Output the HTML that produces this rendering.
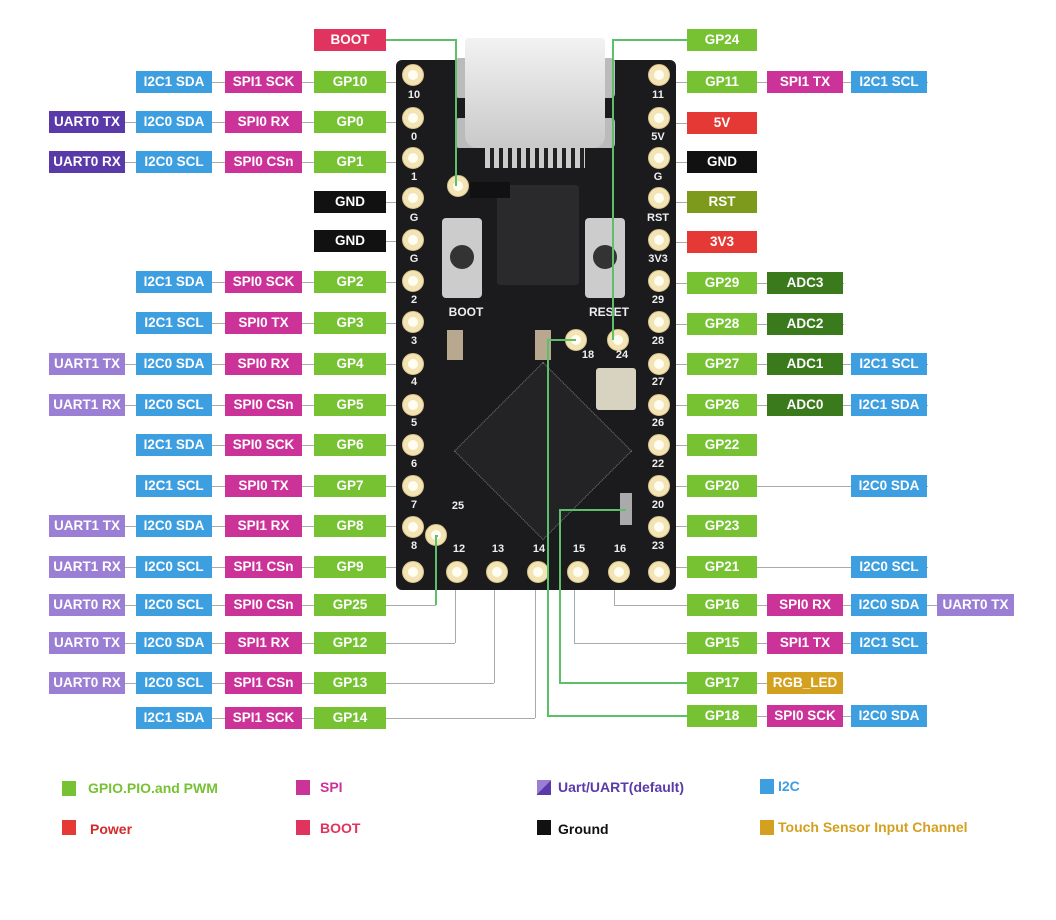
<!DOCTYPE html>
<html><head><meta charset="utf-8"><style>
body{margin:0;width:1056px;height:920px;background:#fff;position:relative;overflow:hidden;font-family:"Liberation Sans",sans-serif}
.b{position:absolute;height:22px;line-height:22px;color:#fff;font-weight:bold;font-size:13.5px;text-align:center;white-space:nowrap}
.g{background:#77c232}.s{background:#cc3399}.i{background:#3d9ee0}.u{background:#5a3aa8}.v{background:#9b7fd4}.r{background:#e53935}.k{background:#111}.bt{background:#e0335e}.o{background:#7d9a1c}.a{background:#3a7a1c}.y{background:#d4a020}
.L1{left:49px;width:76px}.L2{left:136px;width:76px}.L3{left:225px;width:77px}.L4{left:314px;width:72px}
.R1{left:687px;width:70px}.R2{left:767px;width:76px}.R3{left:851px;width:76px}.R4{left:937px;width:77px}
.h{position:absolute;height:1px;background:#aaa}
.vl{position:absolute;width:1px;background:#aaa}
.gh{position:absolute;height:2px;background:#5cbf6a}.gv{position:absolute;width:2px;background:#5cbf6a}
.p{position:absolute;width:22px;height:22px;border-radius:50%;background:#f2e4b4;margin:-11px 0 0 -11px;box-sizing:border-box;border:1px solid #d8c388}
.p::after{content:"";position:absolute;left:5px;top:5px;width:10px;height:10px;border-radius:50%;background:#fffdf2}
.t{position:absolute;color:#eee;font-weight:bold;font-size:11px;transform:translateX(-50%)}
.lg{position:absolute;font-size:14px;font-weight:bold}
.sq{position:absolute;width:14px;height:15px}
</style></head><body>
<!-- horizontal connectors left -->
<div class="h" style="left:386px;top:40px;width:12px"></div>
<div class="h" style="left:136px;top:82px;width:262px"></div>
<div class="h" style="left:49px;top:122px;width:349px"></div>
<div class="h" style="left:49px;top:162px;width:349px"></div>
<div class="h" style="left:386px;top:202px;width:12px"></div>
<div class="h" style="left:386px;top:241px;width:12px"></div>
<div class="h" style="left:136px;top:282px;width:262px"></div>
<div class="h" style="left:136px;top:323px;width:262px"></div>
<div class="h" style="left:49px;top:364px;width:349px"></div>
<div class="h" style="left:49px;top:405px;width:349px"></div>
<div class="h" style="left:136px;top:445px;width:262px"></div>
<div class="h" style="left:136px;top:486px;width:262px"></div>
<div class="h" style="left:49px;top:526px;width:349px"></div>
<div class="h" style="left:49px;top:567px;width:349px"></div>
<div class="h" style="left:49px;top:605px;width:387px"></div>
<div class="h" style="left:49px;top:643px;width:406px"></div>
<div class="h" style="left:49px;top:683px;width:445px"></div>
<div class="h" style="left:136px;top:718px;width:399px"></div>
<div class="vl" style="left:455px;top:585px;height:58px"></div>
<div class="vl" style="left:494px;top:585px;height:98px"></div>
<div class="vl" style="left:535px;top:585px;height:133px"></div>
<!-- right connectors -->
<div class="h" style="left:674px;top:82px;width:254px"></div>
<div class="h" style="left:674px;top:123px;width:14px"></div>
<div class="h" style="left:674px;top:162px;width:14px"></div>
<div class="h" style="left:674px;top:202px;width:14px"></div>
<div class="h" style="left:674px;top:242px;width:14px"></div>
<div class="h" style="left:674px;top:283px;width:170px"></div>
<div class="h" style="left:674px;top:324px;width:170px"></div>
<div class="h" style="left:674px;top:364px;width:254px"></div>
<div class="h" style="left:674px;top:405px;width:254px"></div>
<div class="h" style="left:674px;top:445px;width:14px"></div>
<div class="h" style="left:674px;top:486px;width:254px"></div>
<div class="h" style="left:674px;top:526px;width:14px"></div>
<div class="h" style="left:674px;top:567px;width:254px"></div>
<div class="h" style="left:614px;top:605px;width:400px"></div>
<div class="vl" style="left:614px;top:585px;height:20px"></div>
<div class="h" style="left:574px;top:643px;width:354px"></div>
<div class="vl" style="left:574px;top:585px;height:58px"></div>
<div class="h" style="left:757px;top:683px;width:86px"></div>
<div class="h" style="left:757px;top:716px;width:170px"></div>

<!-- board -->
<div style="position:absolute;left:396px;top:60px;width:280px;height:530px;background:#1b1b1d;border-radius:6px"></div>
<div style="position:absolute;left:497px;top:185px;width:82px;height:100px;background:#2a2a2c;border-radius:3px"></div>
<div style="position:absolute;left:480px;top:388px;width:124px;height:124px;background:#232325;transform:rotate(45deg);border:1px dotted #777"></div>
<div style="position:absolute;left:442px;top:218px;width:40px;height:80px;background:#ccc;border-radius:4px"></div>
<div style="position:absolute;left:450px;top:245px;width:24px;height:24px;background:#333;border-radius:50%"></div>
<div style="position:absolute;left:585px;top:218px;width:40px;height:80px;background:#ccc;border-radius:4px"></div>
<div style="position:absolute;left:593px;top:245px;width:24px;height:24px;background:#333;border-radius:50%"></div>
<div style="position:absolute;left:596px;top:368px;width:40px;height:42px;background:#d8d2c0;border-radius:3px"></div>
<div style="position:absolute;left:470px;top:182px;width:40px;height:16px;background:#111"></div>
<div style="position:absolute;left:447px;top:330px;width:16px;height:30px;background:#b8a890"></div>
<div style="position:absolute;left:535px;top:330px;width:16px;height:30px;background:#b8a890"></div>
<div style="position:absolute;left:620px;top:493px;width:12px;height:32px;background:#aaa"></div>
<!-- USB -->
<div style="position:absolute;left:455px;top:58px;width:30px;height:40px;background:#bbb;border-radius:4px"></div>
<div style="position:absolute;left:585px;top:58px;width:30px;height:40px;background:#bbb;border-radius:4px"></div>
<div style="position:absolute;left:455px;top:118px;width:30px;height:30px;background:#bbb;border-radius:4px"></div>
<div style="position:absolute;left:585px;top:118px;width:30px;height:30px;background:#bbb;border-radius:4px"></div>
<div style="position:absolute;left:465px;top:38px;width:140px;height:110px;background:linear-gradient(#f2f2f2,#c9c9c9);border-radius:4px 4px 12px 12px"></div>
<div style="position:absolute;left:485px;top:148px;width:100px;height:20px;background:repeating-linear-gradient(90deg,#ccc 0 5px,#222 5px 9px)"></div>

<!-- pins -->
<div class="p" style="left:413px;top:75px"></div><div class="p" style="left:413px;top:118px"></div><div class="p" style="left:413px;top:158px"></div><div class="p" style="left:413px;top:198px"></div><div class="p" style="left:413px;top:240px"></div><div class="p" style="left:413px;top:281px"></div><div class="p" style="left:413px;top:322px"></div><div class="p" style="left:413px;top:364px"></div><div class="p" style="left:413px;top:405px"></div><div class="p" style="left:413px;top:445px"></div><div class="p" style="left:413px;top:486px"></div><div class="p" style="left:413px;top:527px"></div>
<div class="p" style="left:659px;top:75px"></div><div class="p" style="left:659px;top:118px"></div><div class="p" style="left:659px;top:158px"></div><div class="p" style="left:659px;top:198px"></div><div class="p" style="left:659px;top:240px"></div><div class="p" style="left:659px;top:281px"></div><div class="p" style="left:659px;top:322px"></div><div class="p" style="left:659px;top:364px"></div><div class="p" style="left:659px;top:405px"></div><div class="p" style="left:659px;top:445px"></div><div class="p" style="left:659px;top:486px"></div><div class="p" style="left:659px;top:527px"></div>
<div class="p" style="left:413px;top:572px"></div><div class="p" style="left:457px;top:572px"></div><div class="p" style="left:497px;top:572px"></div><div class="p" style="left:538px;top:572px"></div><div class="p" style="left:578px;top:572px"></div><div class="p" style="left:619px;top:572px"></div><div class="p" style="left:659px;top:572px"></div>
<div class="p" style="left:458px;top:186px"></div><div class="p" style="left:436px;top:535px"></div><div class="p" style="left:576px;top:340px"></div><div class="p" style="left:618px;top:340px"></div>
<!-- pin labels -->
<div class="t" style="left:414px;top:89px">10</div><div class="t" style="left:414px;top:131px">0</div><div class="t" style="left:414px;top:171px">1</div><div class="t" style="left:414px;top:212px">G</div><div class="t" style="left:414px;top:253px">G</div><div class="t" style="left:414px;top:294px">2</div><div class="t" style="left:414px;top:335px">3</div><div class="t" style="left:414px;top:376px">4</div><div class="t" style="left:414px;top:417px">5</div><div class="t" style="left:414px;top:458px">6</div><div class="t" style="left:414px;top:499px">7</div><div class="t" style="left:414px;top:540px">8</div>
<div class="t" style="left:658px;top:89px">11</div><div class="t" style="left:658px;top:131px">5V</div><div class="t" style="left:658px;top:171px">G</div><div class="t" style="left:658px;top:212px">RST</div><div class="t" style="left:658px;top:253px">3V3</div><div class="t" style="left:658px;top:294px">29</div><div class="t" style="left:658px;top:335px">28</div><div class="t" style="left:658px;top:376px">27</div><div class="t" style="left:658px;top:417px">26</div><div class="t" style="left:658px;top:458px">22</div><div class="t" style="left:658px;top:499px">20</div><div class="t" style="left:658px;top:540px">23</div>
<div class="t" style="left:459px;top:543px">12</div><div class="t" style="left:498px;top:543px">13</div><div class="t" style="left:539px;top:543px">14</div><div class="t" style="left:579px;top:543px">15</div><div class="t" style="left:620px;top:543px">16</div><div class="t" style="left:458px;top:500px">25</div>
<div class="t" style="left:588px;top:349px">18</div><div class="t" style="left:622px;top:349px">24</div><div class="t" style="left:466px;top:305px;font-size:12px">BOOT</div><div class="t" style="left:609px;top:305px;font-size:12px">RESET</div>

<!-- green leaders -->
<div class="gh" style="left:386px;top:39px;width:70px"></div><div class="gv" style="left:455px;top:39px;height:147px"></div>
<div class="gh" style="left:613px;top:39px;width:74px"></div><div class="gv" style="left:612px;top:39px;height:301px"></div>
<div class="gh" style="left:548px;top:339px;width:28px"></div><div class="gv" style="left:547px;top:339px;height:378px"></div><div class="gh" style="left:547px;top:715px;width:140px"></div>
<div class="gh" style="left:560px;top:509px;width:66px"></div><div class="gv" style="left:559px;top:509px;height:174px"></div><div class="gh" style="left:559px;top:682px;width:128px"></div>
<div class="gh" style="left:436px;top:535px;width:2px"></div><div class="gv" style="left:435px;top:535px;height:70px"></div>

<!-- left boxes -->
<div class="b bt L4" style="top:29px">BOOT</div>
<div class="b i L2" style="top:71px">I2C1 SDA</div><div class="b s L3" style="top:71px">SPI1 SCK</div><div class="b g L4" style="top:71px">GP10</div>
<div class="b u L1" style="top:111px">UART0 TX</div><div class="b i L2" style="top:111px">I2C0 SDA</div><div class="b s L3" style="top:111px">SPI0 RX</div><div class="b g L4" style="top:111px">GP0</div>
<div class="b u L1" style="top:151px">UART0 RX</div><div class="b i L2" style="top:151px">I2C0 SCL</div><div class="b s L3" style="top:151px">SPI0 CSn</div><div class="b g L4" style="top:151px">GP1</div>
<div class="b k L4" style="top:191px">GND</div>
<div class="b k L4" style="top:230px">GND</div>
<div class="b i L2" style="top:271px">I2C1 SDA</div><div class="b s L3" style="top:271px">SPI0 SCK</div><div class="b g L4" style="top:271px">GP2</div>
<div class="b i L2" style="top:312px">I2C1 SCL</div><div class="b s L3" style="top:312px">SPI0 TX</div><div class="b g L4" style="top:312px">GP3</div>
<div class="b v L1" style="top:353px">UART1 TX</div><div class="b i L2" style="top:353px">I2C0 SDA</div><div class="b s L3" style="top:353px">SPI0 RX</div><div class="b g L4" style="top:353px">GP4</div>
<div class="b v L1" style="top:394px">UART1 RX</div><div class="b i L2" style="top:394px">I2C0 SCL</div><div class="b s L3" style="top:394px">SPI0 CSn</div><div class="b g L4" style="top:394px">GP5</div>
<div class="b i L2" style="top:434px">I2C1 SDA</div><div class="b s L3" style="top:434px">SPI0 SCK</div><div class="b g L4" style="top:434px">GP6</div>
<div class="b i L2" style="top:475px">I2C1 SCL</div><div class="b s L3" style="top:475px">SPI0 TX</div><div class="b g L4" style="top:475px">GP7</div>
<div class="b v L1" style="top:515px">UART1 TX</div><div class="b i L2" style="top:515px">I2C0 SDA</div><div class="b s L3" style="top:515px">SPI1 RX</div><div class="b g L4" style="top:515px">GP8</div>
<div class="b v L1" style="top:556px">UART1 RX</div><div class="b i L2" style="top:556px">I2C0 SCL</div><div class="b s L3" style="top:556px">SPI1 CSn</div><div class="b g L4" style="top:556px">GP9</div>
<div class="b v L1" style="top:594px">UART0 RX</div><div class="b i L2" style="top:594px">I2C0 SCL</div><div class="b s L3" style="top:594px">SPI0 CSn</div><div class="b g L4" style="top:594px">GP25</div>
<div class="b v L1" style="top:632px">UART0 TX</div><div class="b i L2" style="top:632px">I2C0 SDA</div><div class="b s L3" style="top:632px">SPI1 RX</div><div class="b g L4" style="top:632px">GP12</div>
<div class="b v L1" style="top:672px">UART0 RX</div><div class="b i L2" style="top:672px">I2C0 SCL</div><div class="b s L3" style="top:672px">SPI1 CSn</div><div class="b g L4" style="top:672px">GP13</div>
<div class="b i L2" style="top:707px">I2C1 SDA</div><div class="b s L3" style="top:707px">SPI1 SCK</div><div class="b g L4" style="top:707px">GP14</div>

<!-- right boxes -->
<div class="b g R1" style="top:29px">GP24</div>
<div class="b g R1" style="top:71px">GP11</div><div class="b s R2" style="top:71px">SPI1 TX</div><div class="b i R3" style="top:71px">I2C1 SCL</div>
<div class="b r R1" style="top:112px">5V</div>
<div class="b k R1" style="top:151px">GND</div>
<div class="b o R1" style="top:191px">RST</div>
<div class="b r R1" style="top:231px">3V3</div>
<div class="b g R1" style="top:272px">GP29</div><div class="b a R2" style="top:272px">ADC3</div>
<div class="b g R1" style="top:313px">GP28</div><div class="b a R2" style="top:313px">ADC2</div>
<div class="b g R1" style="top:353px">GP27</div><div class="b a R2" style="top:353px">ADC1</div><div class="b i R3" style="top:353px">I2C1 SCL</div>
<div class="b g R1" style="top:394px">GP26</div><div class="b a R2" style="top:394px">ADC0</div><div class="b i R3" style="top:394px">I2C1 SDA</div>
<div class="b g R1" style="top:434px">GP22</div>
<div class="b g R1" style="top:475px">GP20</div><div class="b i R3" style="top:475px">I2C0 SDA</div>
<div class="b g R1" style="top:515px">GP23</div>
<div class="b g R1" style="top:556px">GP21</div><div class="b i R3" style="top:556px">I2C0 SCL</div>
<div class="b g R1" style="top:594px">GP16</div><div class="b s R2" style="top:594px">SPI0 RX</div><div class="b i R3" style="top:594px">I2C0 SDA</div><div class="b v R4" style="top:594px">UART0 TX</div>
<div class="b g R1" style="top:632px">GP15</div><div class="b s R2" style="top:632px">SPI1 TX</div><div class="b i R3" style="top:632px">I2C1 SCL</div>
<div class="b g R1" style="top:672px">GP17</div><div class="b y R2" style="top:672px">RGB_LED</div>
<div class="b g R1" style="top:705px">GP18</div><div class="b s R2" style="top:705px">SPI0 SCK</div><div class="b i R3" style="top:705px">I2C0 SDA</div>

<!-- legend -->
<div class="sq" style="left:62px;top:781px;background:#77c232"></div><div class="lg" style="left:88px;top:780px;color:#77c232">GPIO.PIO.and PWM</div>
<div class="sq" style="left:296px;top:780px;background:#cc3399"></div><div class="lg" style="left:320px;top:779px;color:#cc3399">SPI</div>
<div class="sq" style="left:537px;top:780px;background:linear-gradient(135deg,#9b7fd4 50%,#5a3aa8 50%)"></div><div class="lg" style="left:558px;top:779px;color:#5a3aa8">Uart/UART(default)</div>
<div class="sq" style="left:760px;top:779px;background:#3d9ee0"></div><div class="lg" style="left:778px;top:778px;color:#3d9ee0">I2C</div>
<div class="sq" style="left:62px;top:820px;background:#e53935"></div><div class="lg" style="left:90px;top:821px;color:#d42a2a">Power</div>
<div class="sq" style="left:296px;top:820px;background:#e0335e"></div><div class="lg" style="left:320px;top:820px;color:#e0335e">BOOT</div>
<div class="sq" style="left:537px;top:820px;background:#111"></div><div class="lg" style="left:558px;top:821px;color:#111">Ground</div>
<div class="sq" style="left:760px;top:820px;background:#d4a020"></div><div class="lg" style="left:778px;top:819px;color:#d4a020">Touch Sensor Input Channel</div>
</body></html>
